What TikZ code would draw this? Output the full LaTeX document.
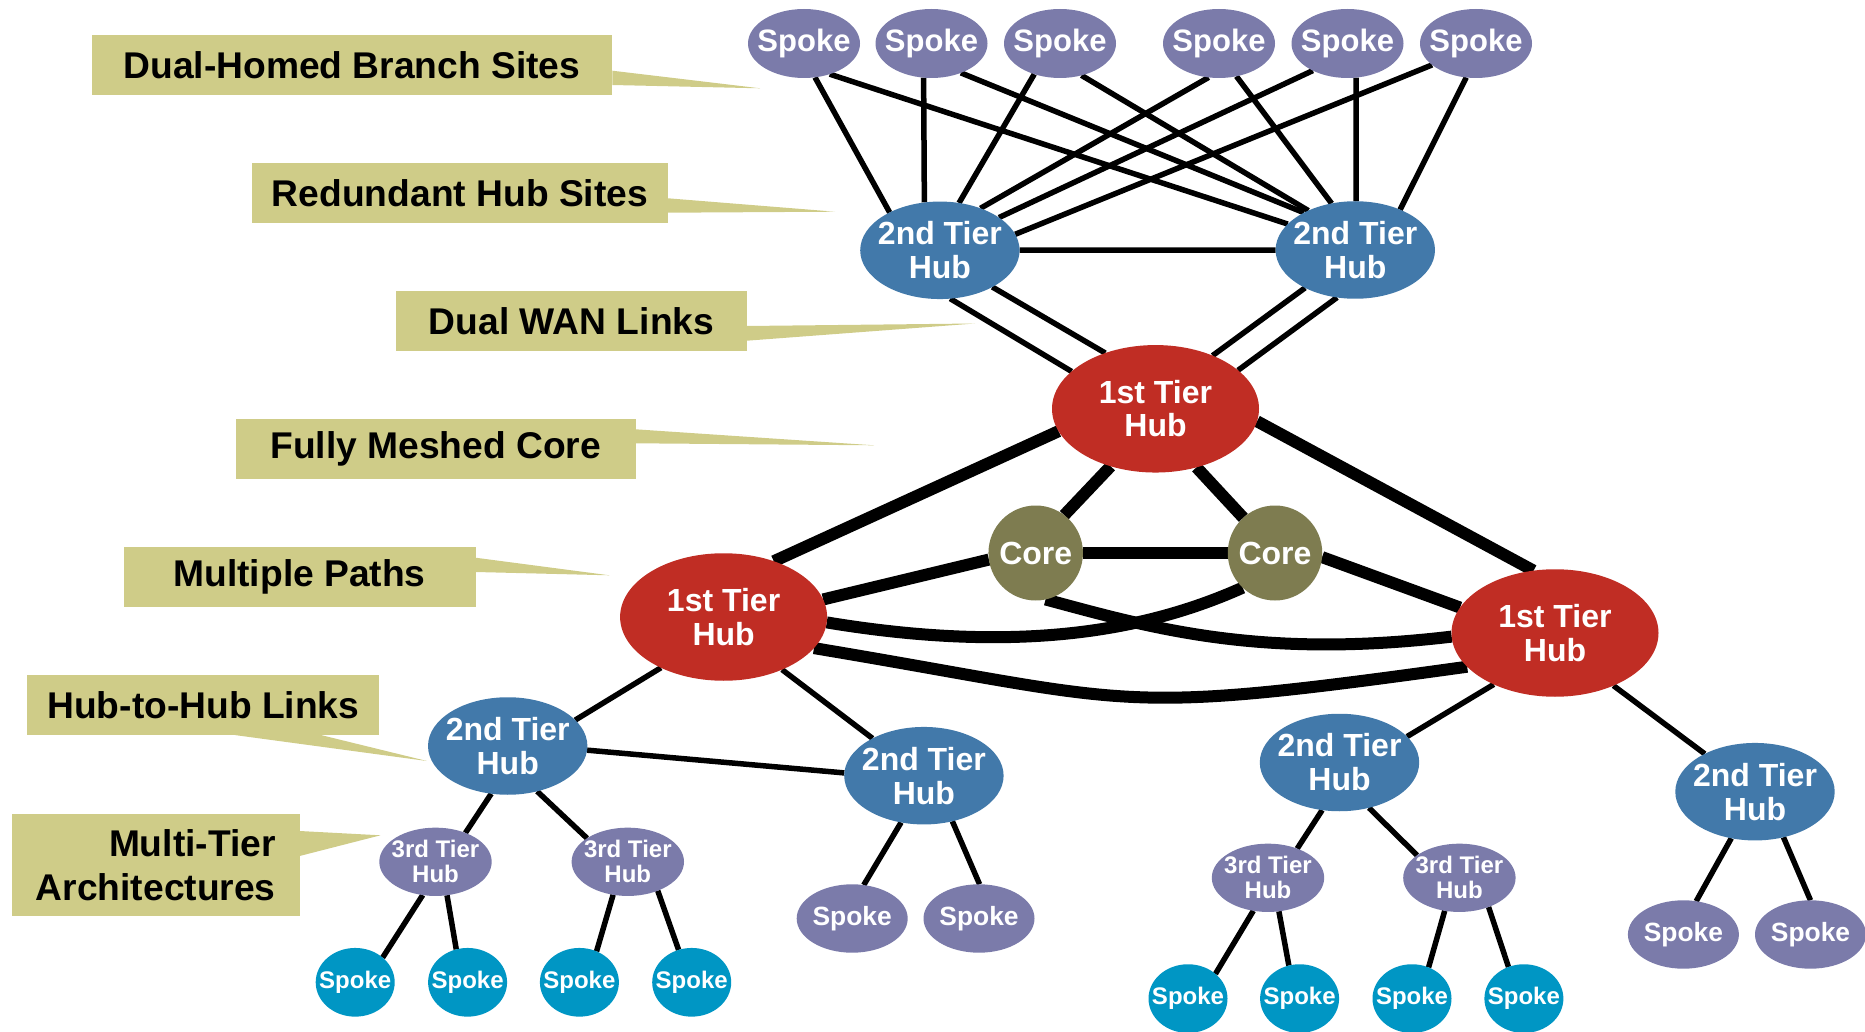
\documentclass[tikz,border=0pt]{standalone}
\usepackage{fontspec}
\setmainfont{Liberation Sans}
\usetikzlibrary{shapes.geometric}
\pgfdeclarelayer{bg}
\pgfsetlayers{bg,main}
\definecolor{spk}{RGB}{123,123,170}
\definecolor{hubblue}{RGB}{66,121,170}
\definecolor{hubred}{RGB}{192,45,36}
\definecolor{coreol}{RGB}{126,124,80}
\definecolor{cyanspk}{RGB}{0,150,196}
\definecolor{labfill}{RGB}{207,204,136}
\newcommand\myfs[2]{\fontsize{#1}{#2}\selectfont\bfseries}
\begin{document}
\begin{tikzpicture}[x=0.5pt,y=-0.5pt,
  ell/.style={ellipse, inner sep=-30pt, outer sep=0pt, text=white, align=center},
  spokeT/.style={ell, fill=spk, minimum width=56pt, minimum height=34.5pt, font=\myfs{15.5}{16}},
  hubtwo/.style={ell, fill=hubblue, minimum width=79.7pt, minimum height=48.75pt, font=\myfs{16}{17}},
  hubone/.style={ell, fill=hubred, minimum width=103.5pt, minimum height=63.75pt, font=\myfs{16}{16.7}},
  corenode/.style={ell, fill=coreol, minimum width=47.25pt, minimum height=47.5pt, font=\myfs{16}{17}},
  hubthree/.style={ell, fill=spk, minimum width=56.2pt, minimum height=34.15pt, font=\myfs{12}{12.5}},
  spokeC/.style={ell, fill=cyanspk, minimum width=39.5pt, minimum height=34.35pt, font=\myfs{12}{13}},
  spokeB/.style={ell, fill=spk, minimum width=55.5pt, minimum height=34.2pt, font=\myfs{13.2}{14}},
  lab/.style={rectangle, fill=labfill, inner sep=0pt, outer sep=0pt, text=black, font=\myfs{18.6}{21.7}},
  thinln/.style={line width=2.75pt},
  thickln/.style={line width=6pt}]
\useasboundingbox (0,0) rectangle (1865,1032);

% labels
\node[lab, minimum width=260.4pt, minimum height=29.85pt] (l1) at (352,64.85) {Dual-Homed Branch Sites};
\node[lab, minimum width=208pt, minimum height=29.7pt] (l2) at (460,193) {Redundant Hub Sites};
\node[lab, minimum width=175.5pt, minimum height=29.7pt] (l3) at (571.5,321) {Dual WAN Links};
\node[lab, minimum width=199.8pt, minimum height=29.7pt] (l4) at (435.8,449) {Fully Meshed Core};
\node[lab, minimum width=175.95pt, minimum height=29.7pt] (l5) at (299.6,577) {Multiple Paths};
\node[lab, minimum width=176pt, minimum height=29.85pt] (l6) at (203.3,705.2) {Hub-to-Hub Links};
\node[lab, minimum width=143.85pt, minimum height=50.7pt, align=right] (l7) at (155.8,865) {Multi-Tier\\Architectures};
\coordinate (t1) at (760,88.3);
\coordinate (t2) at (835,211.7);
\coordinate (t3) at (975,323.5);
\coordinate (t4) at (874,445.3);
\coordinate (t5) at (609.4,575.3);
\coordinate (t6) at (426.9,761);
\coordinate (t7) at (380.5,835.3);
\fill[labfill] ([yshift=-2.93pt]l1.east) -- (t1) -- ([yshift=-10.08pt]l1.east) -- cycle;
\fill[labfill] ([yshift=-2.65pt]l2.east) -- (t2) -- ([yshift=-9.85pt]l2.east) -- cycle;
\fill[labfill] ([yshift=-2.5pt]l3.east) -- (t3) -- ([yshift=-9.85pt]l3.east) -- cycle;
\fill[labfill] ([yshift=9.85pt]l4.east) -- (t4) -- ([yshift=2.85pt]l4.east) -- cycle;
\fill[labfill] ([yshift=9.65pt]l5.east) -- (t5) -- ([yshift=2.5pt]l5.east) -- cycle;
\fill[labfill] ([xshift=15.75pt]l6.south) -- (t6) -- ([xshift=58.85pt]l6.south) -- cycle;
\fill[labfill] ([yshift=17pt]l7.east) -- (t7) -- ([yshift=4.5pt]l7.east) -- cycle;

% top spokes
\node[spokeT] (s1) at (804,43.5) {Spoke};
\node[spokeT] (s2) at (931.5,43.5) {Spoke};
\node[spokeT] (s3) at (1060,43.5) {Spoke};
\node[spokeT] (s4) at (1219,43.5) {Spoke};
\node[spokeT] (s5) at (1347.5,43.5) {Spoke};
\node[spokeT] (s6) at (1476,43.5) {Spoke};
% hubs
\node[hubtwo] (h2l) at (939.9,250.3) {2nd Tier\\Hub};
\node[hubtwo] (h2r) at (1355.3,250) {2nd Tier\\Hub};
\node[hubone] (h1t) at (1155.5,408.8) {1st Tier\\Hub};
\node[corenode] (c1) at (1035.7,553) {Core};
\node[corenode] (c2) at (1275,553) {Core};
\node[hubone] (h1l) at (723.6,617) {1st Tier\\Hub};
\node[hubone] (h1r) at (1555,633) {1st Tier\\Hub};
\node[hubtwo] (ha) at (507.7,746) {2nd Tier\\Hub};
\node[hubtwo] (hb) at (923.9,775.7) {2nd Tier\\Hub};
\node[hubtwo] (hc) at (1339.5,762.5) {2nd Tier\\Hub};
\node[hubtwo] (hd) at (1755,791.7) {2nd Tier\\Hub};
\node[hubthree] (a1) at (435.5,861.8) {3rd Tier\\Hub};
\node[hubthree] (a2) at (627.8,861.8) {3rd Tier\\Hub};
\node[hubthree] (cc1) at (1268,877.8) {3rd Tier\\Hub};
\node[hubthree] (cc2) at (1459.4,877.8) {3rd Tier\\Hub};
\node[spokeC] (k1) at (355.2,982.3) {Spoke};
\node[spokeC] (k2) at (467.6,982.3) {Spoke};
\node[spokeC] (k3) at (579.4,982.3) {Spoke};
\node[spokeC] (k4) at (691.7,982.3) {Spoke};
\node[spokeC] (k5) at (1188,998.6) {Spoke};
\node[spokeC] (k6) at (1299.6,998.6) {Spoke};
\node[spokeC] (k7) at (1412,998.6) {Spoke};
\node[spokeC] (k8) at (1523.9,998.6) {Spoke};
\node[spokeB] (b1) at (852.2,918.5) {Spoke};
\node[spokeB] (b2) at (979,918.5) {Spoke};
\node[spokeB] (d1) at (1683.4,934.5) {Spoke};
\node[spokeB] (d2) at (1810.5,934.5) {Spoke};

\begin{pgfonlayer}{bg}
\draw[thinln] (s1.-72.7) -- (h2l.143.6);
\draw[thinln] (s1.-50.2) -- (h2r.159.4);
\draw[thinln] (s2.-103.5) -- (h2l.108.9);
\draw[thinln] (s2.-45.9) -- (h2r.144.6);
\draw[thinln] (s3.-130.6) -- (h2l.68.7);
\draw[thinln] (s3.-56.8) -- (h2r.140.6);
\draw[thinln] (s4.-107.6) -- (h2l.46.6);
\draw[thinln] (s4.-62.3) -- (h2r.117.4);
\draw[thinln] (s5.-142.9) -- (h2l.29.1);
\draw[thinln] (s5.-76.2) -- (h2r.89.3);
\draw[thinln] (s6.-154.3) -- (h2l.12.7);
\draw[thinln] (s6.-106.5) -- (h2r.42.7);
\draw[thinln] (h2l) -- (h2r);
\draw[thinln] (h2l.-78) -- (h1t.156);
\draw[thinln] (h2l.-35.2) -- (h1t.132.6);
\draw[thinln] (h2r.-143) -- (h1t.43.9);
\draw[thinln] (h2r.-111.5) -- (h1t.25.1);
% core
\draw[thickln] (h1t.-167.9) -- (h1l.48.6);
\draw[thickln] (h1t.-128.2) -- (c1.53.6);
\draw[thickln] (h1t.-55.4) -- (c2.132.8);
\draw[thickln] (h1t.-7.3) -- (h1r.109.5);
\draw[thickln] (c1) -- (c2);
\draw[thickln] (h1l.10.3) -- (c1.-172.5);
\draw[thickln] (c2.-5.6) -- (h1r.165.4);
\draw[thickln] (c1.-78) .. controls +(104.5,28) and +(-194,23) .. (h1r.182);
\draw[thickln] (c2.-133) .. controls +(-96,43) and +(193,32) .. (h1l.-3);
\draw[thickln] (h1l.-19.7) .. controls +(330,55) and +(-360,50) .. (h1r.-159.4);
% lower trees
\draw[thinln] (h1l.-141.4) -- (ha.21.2);
\draw[thinln] (h1l.-42.3) -- (hb.144.3);
\draw[thinln] (ha.-3) -- (hb.178);
\draw[thinln] (ha.-109) -- (a1.44.1);
\draw[thinln] (ha.-57) -- (a2.150.3);
\draw[thinln] (a1.-111.4) -- (k1.42.2);
\draw[thinln] (a1.-71.3) -- (k2.109.4);
\draw[thinln] (a2.-114.2) -- (k3.61.3);
\draw[thinln] (a2.-44.6) -- (k4.112.8);
\draw[thinln] (hb.-116.7) -- (b1.71.7);
\draw[thinln] (hb.-58.4) -- (b2.89);
\draw[thinln] (h1r.-140) -- (hc.21.3);
\draw[thinln] (h1r.-42.6) -- (hd.143.3);
\draw[thinln] (hc.-110.5) -- (cc1.45.6);
\draw[thinln] (hc.-57.8) -- (cc2.152);
\draw[thinln] (cc1.-114.3) -- (k5.42.6);
\draw[thinln] (cc1.-72.3) -- (k6.108.5);
\draw[thinln] (cc2.-114.2) -- (k7.62);
\draw[thinln] (cc2.-45.3) -- (k8.116.2);
\draw[thinln] (hd.-117.5) -- (d1.69.4);
\draw[thinln] (hd.-58.3) -- (d2.90);
\end{pgfonlayer}
\end{tikzpicture}
\end{document}
